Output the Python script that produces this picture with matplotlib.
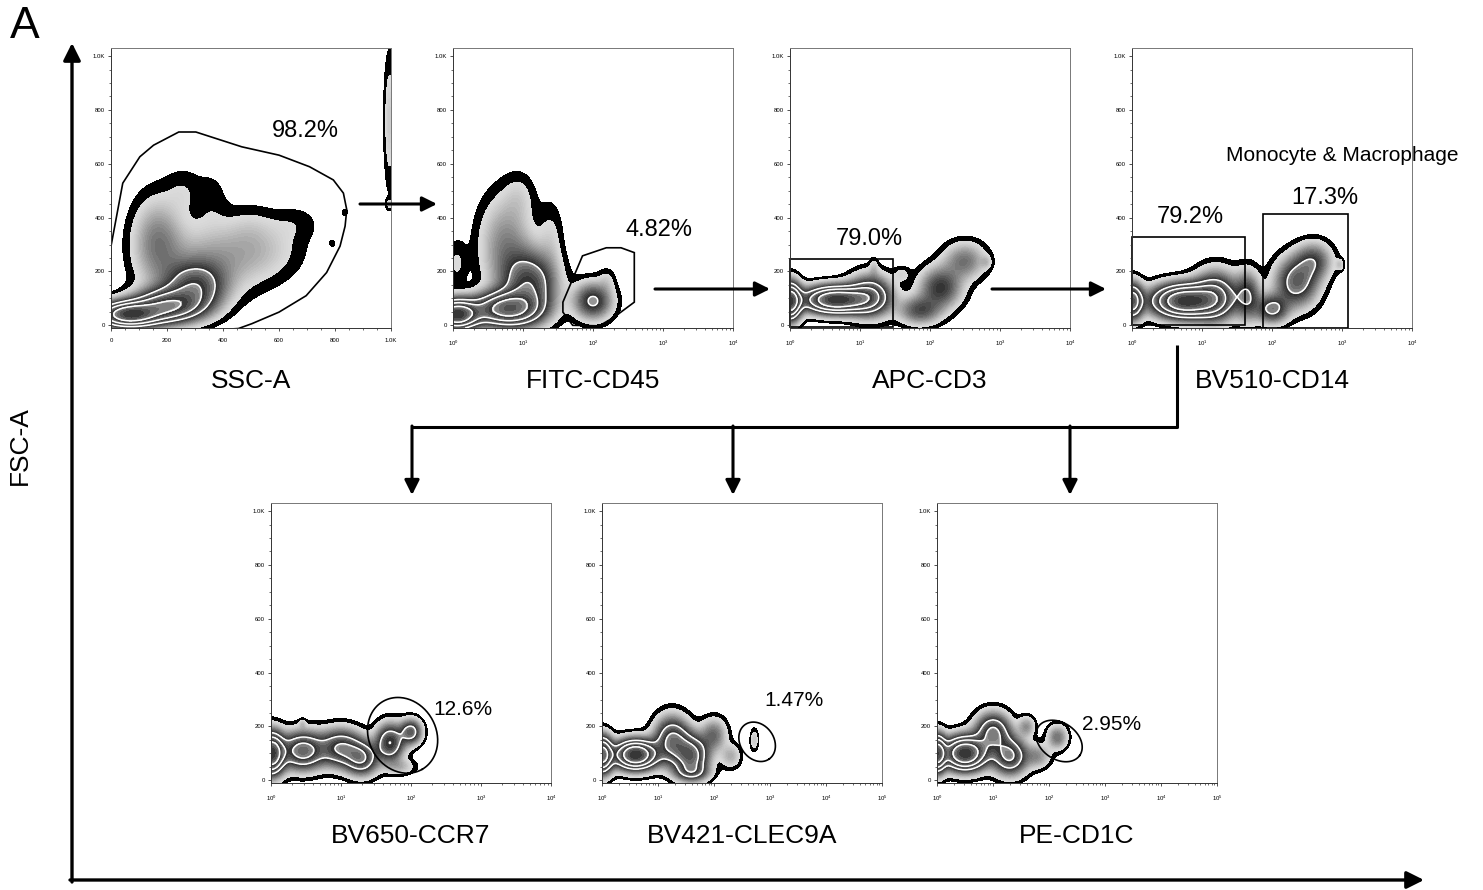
import numpy as np
import matplotlib
matplotlib.use("Agg")
import matplotlib.pyplot as plt
from matplotlib.patches import Polygon, Rectangle
from matplotlib.ticker import MultipleLocator, FixedLocator

plt.rcParams['font.family'] = ['Liberation Sans', 'DejaVu Sans']
plt.rcParams['mathtext.fontset'] = 'custom'
plt.rcParams['mathtext.rm'] = 'Liberation Sans'
plt.rcParams['mathtext.it'] = 'Liberation Sans'

# cell populations per plot: (x, FSC, x spread, FSC spread, weight)
# x is linear for SSC-A, in decades for the fluorescence channels
ssc_pops = [(60, 40, 70, 30, 1.0), (200, 70, 80, 40, 0.7), (300, 140, 70, 60, 0.45),
            (165, 310, 60, 110, 0.2), (380, 250, 130, 90, 0.15), (560, 280, 90, 70, 0.06),
            (260, 500, 45, 60, 0.05), (360, 470, 40, 75, 0.04), (660, 380, 60, 45, 0.04),
            (500, 370, 60, 55, 0.04), (995, 760, 14, 170, 0.1), (995, 450, 10, 15, 0.06),
            (835, 420, 9, 11, 0.05), (790, 305, 8, 10, 0.05)]
cd45_pops = [(0.05, 40, 0.2, 35, 1.0), (0.75, 60, 0.3, 40, 0.8), (1.1, 150, 0.25, 80, 0.45),
             (0.75, 300, 0.25, 120, 0.18), (0.95, 480, 0.15, 60, 0.05), (1.4, 330, 0.12, 90, 0.06),
             (0.05, 230, 0.1, 60, 0.06), (2.0, 90, 0.18, 45, 0.35), (2.2, 170, 0.08, 30, 0.05)]
cd3_pops = [(0.0, 90, 0.1, 45, 0.9), (0.65, 95, 0.3, 32, 1.0), (1.15, 110, 0.2, 50, 0.45),
            (1.2, 215, 0.04, 25, 0.06), (1.85, 55, 0.2, 35, 0.25), (2.15, 140, 0.2, 50, 0.3),
            (2.5, 240, 0.2, 45, 0.2), (2.8, 235, 0.05, 15, 0.06), (1.6, 190, 0.08, 20, 0.06)]
cd14_pops = [(0.0, 90, 0.1, 45, 0.6), (0.75, 90, 0.3, 40, 1.0), (1.2, 110, 0.2, 60, 0.45),
             (1.65, 110, 0.12, 60, 0.3), (2.0, 60, 0.15, 35, 0.35), (2.35, 160, 0.2, 60, 0.4),
             (2.6, 240, 0.17, 45, 0.25), (2.97, 225, 0.04, 15, 0.08)]
ccr7_pops = [(0.0, 100, 0.12, 50, 1.0), (0.45, 110, 0.2, 45, 0.6), (0.45, 210, 0.03, 12, 0.06),
             (1.0, 120, 0.2, 45, 0.5), (1.3, 80, 0.15, 40, 0.45), (1.7, 140, 0.13, 45, 0.5),
             (2.0, 180, 0.1, 30, 0.4), (1.85, 50, 0.15, 20, 0.1)]
clec9a_pops = [(0.0, 95, 0.12, 45, 0.8), (0.6, 95, 0.25, 35, 1.0), (1.25, 150, 0.2, 55, 0.5),
               (1.6, 90, 0.2, 50, 0.55), (2.0, 170, 0.15, 40, 0.2), (2.3, 90, 0.12, 30, 0.12),
               (2.72, 150, 0.05, 28, 0.09), (1.6, 30, 0.2, 20, 0.2)]
cd1c_pops = [(0.0, 100, 0.1, 45, 0.8), (0.5, 100, 0.25, 40, 1.0), (1.0, 180, 0.2, 45, 0.5),
             (1.3, 90, 0.2, 45, 0.5), (1.6, 200, 0.1, 25, 0.15), (2.15, 160, 0.12, 30, 0.2),
             (1.8, 90, 0.15, 30, 0.15)]

channels = ["SSC-A", "FITC-CD45", "APC-CD3", "BV510-CD14", "BV650-CCR7", "BV421-CLEC9A", "PE-CD1C"]
n_decades = [0, 4, 4, 4, 4, 5, 5]
populations = [ssc_pops, cd45_pops, cd3_pops, cd14_pops, ccr7_pops, clec9a_pops, cd1c_pops]

# gates
ssc_gate = [(0, 294), (42, 528), (103, 626), (152, 669), (242, 718), (303, 718), (467, 663),
            (600, 632), (709, 589), (794, 540), (830, 491), (842, 429), (836, 368), (818, 294),
            (770, 196), (697, 110), (600, 49), (503, 6), (455, -12), (0, -40)]
cd45_gate = [(1.57, 86), (1.85, 258), (2.19, 288), (2.40, 288), (2.59, 270), (2.59, 86),
             (2.3, 30), (2.09, -2), (1.71, 0), (1.57, 49)]
cd3_gate = (0.0, -5, 1.47, 245)           # x0, y0, x1, y1
cd14_gates = [(0.0, 0, 1.62, 328), (1.87, -10, 3.09, 413)]
# ellipse gates: centre x, centre y, semi axes (axes fraction), angle
ccr7_gate = (1.88, 167, 0.14, 0.12, -60)
clec9a_gate = (2.77, 143, 0.075, 0.06, -55)
cd1c_gate = (2.18, 146, 0.09, 0.065, -35)

pct_labels = ["98.2%", "4.82%", "79.0%", "79.2%", "17.3%", "12.6%", "1.47%", "2.95%"]

W, H = 1483, 890
fig = plt.figure(figsize=(W / 100, H / 100), dpi=100)

# panel frames in pixels: left, top
frames = [(111, 48), (453, 48), (790, 48), (1132, 48), (271, 503), (602, 503), (937, 503)]
SIZE = 280
YLIM = (-10, 1030)

THR = -1.6
BAND = 0.33
WHITE_T = [0.6, 0.75, 0.88]


def grey(t):
    bounds = [0.0] + WHITE_T + [1.0001]
    for i in range(len(bounds) - 1):
        if bounds[i] <= t < bounds[i + 1]:
            f = (t - bounds[i]) / (bounds[i + 1] - bounds[i])
            if i == 0:
                g = 0.86 - 0.68 * f ** 1.8
            else:
                g = 0.62 - 0.45 * f
            return (g, g, g)
    return (0.2, 0.2, 0.2)


def density(pops, xs, ys):
    X, Y = np.meshgrid(xs, ys)
    Z = np.zeros_like(X)
    for cx, cy, sx, sy, w in pops:
        Z += w * np.exp(-0.5 * (((X - cx) / sx) ** 2 + ((Y - cy) / sy) ** 2))
    return X, Y, Z / Z.max()


def zebra(ax, X, Y, Z):
    D = np.log10(np.maximum(Z, 1e-9))
    ax.contourf(X, Y, D, levels=[THR, THR + BAND], colors='black')
    lv = np.linspace(THR + BAND, 0.001, 41)
    mids = (lv[:-1] + lv[1:]) / 2
    t = (mids - lv[0]) / (lv[-1] - lv[0])
    ax.contourf(X, Y, D, levels=lv, colors=[grey(v) for v in t])
    wl = lv[0] + np.array(WHITE_T) * (lv[-1] - lv[0])
    ax.contour(X, Y, D, levels=wl, colors='white', linewidths=1.1, linestyles='solid')


def ellipse_gate(ax, gate, xmax):
    cx, cy, a, b, ang = gate
    fx = cx / xmax
    fy = (cy - YLIM[0]) / (YLIM[1] - YLIM[0])
    th = np.linspace(0, 2 * np.pi, 200)
    r = np.deg2rad(ang)
    u, v = a * np.cos(th), b * np.sin(th)
    px = fx + u * np.cos(r) - v * np.sin(r)
    py = fy + u * np.sin(r) + v * np.cos(r)
    ax.plot(px, py, color='black', lw=1.2, transform=ax.transAxes)


axes = []
for i, (left, top) in enumerate(frames):
    ax = fig.add_axes([left / W, 1 - (top + SIZE) / H, SIZE / W, SIZE / H])
    axes.append(ax)
    nd = n_decades[i]
    if nd == 0:
        xs = np.linspace(0, 1000, 360)
        ax.set_xlim(0, 1000)
        ax.xaxis.set_major_locator(FixedLocator([0, 200, 400, 600, 800, 1000]))
        ax.set_xticklabels(['0', '200', '400', '600', '800', '1.0K'])
        ax.xaxis.set_minor_locator(MultipleLocator(50))
    else:
        xs = np.linspace(0, nd, 360)
        ax.set_xlim(0, nd)
        ax.xaxis.set_major_locator(FixedLocator(range(nd + 1)))
        ax.set_xticklabels(['$10^{%d}$' % k for k in range(nd + 1)])
        minors = [k + np.log10(m) for k in range(nd) for m in range(2, 10)]
        ax.xaxis.set_minor_locator(FixedLocator(minors))
    ys = np.linspace(YLIM[0], YLIM[1], 360)
    ax.set_ylim(*YLIM)
    ax.yaxis.set_major_locator(FixedLocator([0, 200, 400, 600, 800, 1000]))
    ax.set_yticklabels(['0', '200', '400', '600', '800', '1.0K'])
    ax.yaxis.set_minor_locator(MultipleLocator(50))
    ax.tick_params(which='major', length=2.5, width=0.6, labelsize=4.3, color='#333333')
    ax.tick_params(which='minor', length=1.3, width=0.5, color='#333333')
    ax.tick_params(axis='x', pad=5)
    ax.tick_params(axis='y', pad=2)
    for s in ax.spines.values():
        s.set_color('#777777')
        s.set_linewidth(0.7)
    ax.spines['left'].set_color('#333333')
    ax.spines['bottom'].set_color('#333333')

    X, Y, Z = density(populations[i], xs, ys)
    zebra(ax, X, Y, Z)

    cx = left + SIZE / 2
    cy = top + SIZE + 53
    fig.text(cx / W, 1 - cy / H, channels[i], fontsize=19, ha='center', va='center')

# gates and frequencies
ax1, ax2, ax3, ax4, ax5, ax6, ax7 = axes
ax1.add_patch(Polygon(ssc_gate, closed=True, fill=False, lw=1.2, ec='black'))
ax1.text(694, 720, pct_labels[0], fontsize=17, ha='center', va='center')

ax2.add_patch(Polygon(cd45_gate, closed=True, fill=False, lw=1.2, ec='black'))
ax2.text(2.95, 353, pct_labels[1], fontsize=17, ha='center', va='center')

x0, y0, x1, y1 = cd3_gate
ax3.add_patch(Rectangle((x0, y0), x1 - x0, y1 - y0, fill=False, lw=1.2, ec='black', clip_on=False))
ax3.text(1.14, 320, pct_labels[2], fontsize=17, ha='center', va='center')

for x0, y0, x1, y1 in cd14_gates:
    ax4.add_patch(Rectangle((x0, y0), x1 - x0, y1 - y0, fill=False, lw=1.2, ec='black', clip_on=False))
ax4.text(0.84, 401, pct_labels[3], fontsize=17, ha='center', va='center')
ax4.text(2.76, 472, pct_labels[4], fontsize=17, ha='center', va='center')
ax4.text(3.01, 631, "Monocyte & Macrophage", fontsize=15, ha='center', va='center')

ellipse_gate(ax5, ccr7_gate, 4)
ax5.text(2.32, 263, pct_labels[5], fontsize=15, ha='left', va='center')
ellipse_gate(ax6, clec9a_gate, 5)
ax6.text(2.90, 296, pct_labels[6], fontsize=15, ha='left', va='center')
ellipse_gate(ax7, cd1c_gate, 5)
ax7.text(2.59, 206, pct_labels[7], fontsize=15, ha='left', va='center')

# overlay in pixel units for the gating arrows and the shared axes
ov = fig.add_axes([0, 0, 1, 1])
ov.set_xlim(0, W)
ov.set_ylim(H, 0)
ov.axis('off')
ov.patch.set_alpha(0)


def arrow(x0, y0, x1, y1, lw=2.2, ms=22):
    ov.annotate('', xy=(x1, y1), xytext=(x0, y0),
                arrowprops=dict(arrowstyle='-|>', lw=lw, color='black',
                                mutation_scale=ms, shrinkA=0, shrinkB=0))


arrow(72, 882, 72, 43, lw=2.4, ms=26)
arrow(70, 880, 1424, 880, lw=2.4, ms=26)
arrow(360, 204, 437, 204)
arrow(655, 289, 770, 289)
arrow(992, 289, 1106, 289)
ov.plot([1177, 1177, 412], [345, 427, 427], color='black', lw=2.2, solid_capstyle='butt')
for x in [412, 733, 1070]:
    arrow(x, 426, x, 495)

fig.text(25 / W, 1 - 27 / H, "A", fontsize=32, ha='center', va='center')
fig.text(20 / W, 1 - 446 / H, "FSC-A", fontsize=19, ha='center', va='center', rotation=90)

fig.savefig("out.png", dpi=100)
